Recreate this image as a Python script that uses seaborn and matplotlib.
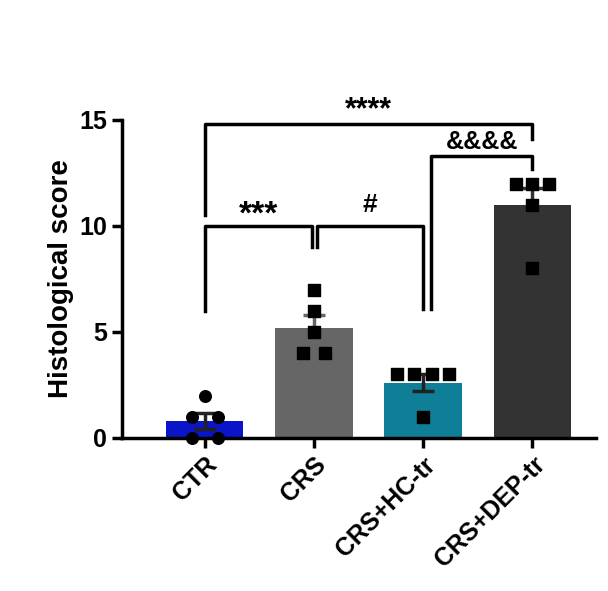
import matplotlib
matplotlib.use("Agg")
import matplotlib.pyplot as plt
import seaborn as sns
import numpy as np
import pandas as pd

plt.rcParams["font.family"] = "Liberation Sans"

groups = ["CTR", "CRS", "CRS+HC-tr", "CRS+DEP-tr"]
ctr = [2, 1, 1, 0, 0]
crs = [7, 6, 5, 4, 4]
hc = [3, 3, 3, 3, 1]
dep = [12, 12, 12, 11, 8]
colors = ["#0a14c8", "#666666", "#0e7f96", "#333333"]

vals = [ctr, crs, hc, dep]
df = pd.DataFrame({"group": np.repeat(groups, 5), "score": np.concatenate(vals)})

fig = plt.figure(figsize=(6.08, 5.91), dpi=100)
ax = fig.add_axes([0.2, 0.259, 0.78, 0.538])
sns.barplot(data=df, x="group", y="score", hue="group", palette=colors, errorbar=None,
            width=0.71, ax=ax, legend=False, saturation=1)
for i, v in enumerate(vals):
    m = np.mean(v); se = np.std(v, ddof=1) / np.sqrt(len(v))
    ax.errorbar(i, m, yerr=se, color=colors[i] if i in (1, 3) else "#222", capsize=8, lw=2.5, capthick=2.5, zorder=3)
offs = {0: [0, -0.12, 0.12, -0.12, 0.12], 1: [0, 0, 0, -0.1, 0.1], 2: [-0.24, -0.08, 0.08, 0.24, 0], 3: [-0.15, 0, 0.15, 0, 0]}
for i, v in enumerate(vals):
    xs = [i + o for o in offs[i]]
    ax.scatter(xs, v, marker="o" if i == 0 else "s", s=70, color="black", zorder=4, clip_on=False)

def bracket(x1, x2, y, h1, h2, text, ty, fs):
    ax.plot([x1, x1, x2, x2], [h1, y, y, h2], color="black", lw=2.5, clip_on=False)
    ax.text((x1 + x2) / 2, ty, text, ha="center", va="bottom", fontsize=fs, fontweight="bold", clip_on=False)

bracket(0, 0.98, 10, 6.0, 9.0, "***", 9.8, 24)
bracket(1.03, 2.0, 10, 9.0, 6.1, "#", 10.4, 19)
bracket(2.07, 3.0, 13.3, 6.1, 12.7, "&&&&", 13.4, 18)
bracket(0, 3.0, 14.8, 10.5, 14.1, "****", 14.75, 22)

ax.set_xlim(-0.76, 3.58)
ax.set_ylim(0, 15)
ax.set_yticks([0, 5, 10, 15])
ax.set_xlabel("")
ax.set_ylabel("Histological score", fontsize=20, fontweight="bold")
sns.despine(ax=ax)
for s in ["left", "bottom"]:
    ax.spines[s].set_linewidth(2.5)
ax.tick_params(width=2.5, length=7, labelsize=18)
for t in ax.get_yticklabels():
    t.set_fontweight("bold")
ax.set_xticks(range(4))
ax.set_xticklabels(groups, rotation=45, ha="right", rotation_mode="anchor", fontweight="bold", fontsize=18)
fig.savefig("out.png", dpi=100)
